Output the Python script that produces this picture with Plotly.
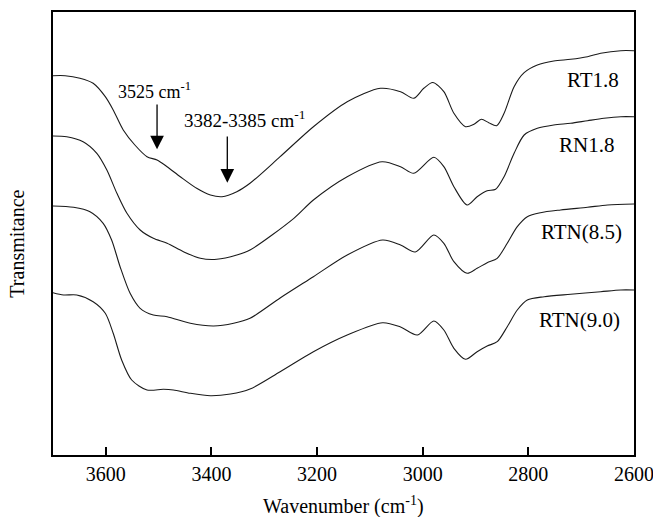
import plotly.graph_objects as go

# Wavenumber (cm-1) and transmittance (arbitrary units, curves offset vertically)
wn_rt18 = [3700, 3677, 3649, 3624, 3601, 3586, 3567, 3545, 3522, 3503, 3484, 3459, 3428, 3402, 3380,
           3352, 3327, 3270, 3207, 3143, 3080, 3042, 3017, 2998, 2981, 2960, 2941, 2919, 2903, 2889,
           2875, 2860, 2846, 2827, 2808, 2783, 2752, 2720, 2688, 2663, 2625, 2600]
t_rt18 = [379.3, 379.3, 376.7, 371.7, 358.3, 345, 325, 310, 298.3, 295, 288.3, 278.3, 266.7, 260, 258.3,
          263.3, 271.7, 298.3, 328.3, 353.3, 366.7, 363.3, 356.7, 366.7, 372.5, 363.3, 341.7, 328.3, 330.7, 335.7,
          332.3, 329.3, 341.7, 368.3, 382.3, 390, 394, 395.7, 398.3, 401.7, 404.3, 404.3]

wn_rn18 = [3700, 3674, 3643, 3617, 3598, 3579, 3560, 3535, 3510, 3484, 3453, 3421, 3390, 3352, 3327,
           3244, 3207, 3143, 3077, 3042, 3017, 2979, 2960, 2941, 2916, 2897, 2878, 2862, 2846, 2827,
           2808, 2783, 2752, 2720, 2688, 2657, 2625, 2600]
t_rn18 = [319, 318.3, 313.3, 301.7, 285, 261.7, 241.7, 225, 216.7, 211.7, 203.3, 196.7, 195.7, 200, 205,
          236.7, 255, 278.3, 293.3, 288.3, 281.7, 297.7, 288.3, 268.3, 250, 258.3, 264.3, 265.7, 278.3, 301.7,
          320, 326.7, 330, 331.7, 334.3, 336.7, 338.3, 338.3]

wn_rtn85 = [3700, 3661, 3630, 3605, 3589, 3573, 3554, 3535, 3510, 3484, 3440, 3396, 3358, 3327, 3270,
            3207, 3143, 3076, 3042, 3014, 2979, 2960, 2941, 2916, 2897, 2878, 2859, 2840, 2821, 2802,
            2777, 2739, 2688, 2650, 2600]
t_rtn85 = [249, 247.7, 243.3, 231.7, 215, 188.3, 161.7, 146.7, 140, 138.3, 131.7, 129, 131.7, 136.7, 157,
           178.3, 200, 215, 210, 203, 220, 211.7, 193.3, 181.7, 186.7, 192.3, 196.7, 211.7, 228.3, 238.3,
           242.3, 245, 247.7, 250, 251]

wn_rtn90 = [3700, 3680, 3655, 3624, 3601, 3586, 3570, 3551, 3522, 3491, 3472, 3440, 3402, 3364, 3327,
            3270, 3207, 3143, 3076, 3042, 3010, 2979, 2960, 2941, 2919, 2897, 2878, 2859, 2840, 2821,
            2802, 2770, 2720, 2663, 2625, 2600]
t_rtn90 = [162.3, 160, 160, 153.3, 141.7, 121.7, 95, 75, 65, 65.7, 65, 61.7, 59.3, 61, 66,
           83.3, 103.3, 120, 132.3, 128, 120, 134, 125, 106.7, 95.7, 103.3, 109, 113.3, 128.3, 145,
           155, 158.3, 160.7, 163.3, 165, 165]

series_names = ["RT1.8", "RN1.8", "RTN(8.5)", "RTN(9.0)"]
series_wn = [wn_rt18, wn_rn18, wn_rtn85, wn_rtn90]
series_t = [t_rt18, t_rn18, t_rtn85, t_rtn90]
# label anchor positions (wavenumber, transmittance)
label_wn = [2625, 2634, 2619, 2622]
label_t = [375.3, 310, 223.3, 135.5]

tick_vals = [3600, 3400, 3200, 3000, 2800, 2600]

FONT = "Liberation Serif"

fig = go.Figure()
for name, x, y in zip(series_names, series_wn, series_t):
    fig.add_trace(go.Scatter(x=x, y=y, mode="lines", name=name,
                             line=dict(color="#1a1a1a", width=1.1, shape="spline", smoothing=0.8),
                             showlegend=False, hoverinfo="skip"))

for name, lx, ly in zip(series_names, label_wn, label_t):
    fig.add_annotation(x=lx, y=ly, text=name, showarrow=False, xanchor="right", yanchor="middle",
                       font=dict(family=FONT, size=21, color="black"))

# peak annotations with arrows
fig.add_annotation(x=3503, y=305.7, ax=3503, ay=352, axref="x", ayref="y",
                   text="", showarrow=True, arrowhead=2, arrowsize=2.1, arrowwidth=1.3, arrowcolor="black")
fig.add_annotation(x=3507, y=365, text="3525 cm<sup>-1</sup>", showarrow=False,
                   font=dict(family=FONT, size=18, color="black"), yanchor="middle")
fig.add_annotation(x=3370, y=272.3, ax=3370, ay=320, axref="x", ayref="y",
                   text="", showarrow=True, arrowhead=2, arrowsize=2.1, arrowwidth=1.3, arrowcolor="black")
fig.add_annotation(x=3337, y=336, text="3382-3385 cm<sup>-1</sup>", showarrow=False,
                   font=dict(family=FONT, size=19, color="black"), yanchor="middle")

# axis titles
fig.add_annotation(xref="paper", yref="paper", x=0.5, y=-0.115, text="Wavenumber (cm<sup>-1</sup>)",
                   showarrow=False, font=dict(family=FONT, size=20, color="black"), yanchor="middle")
fig.add_annotation(xref="paper", yref="paper", x=-0.062, y=0.477, text="Transmitance", textangle=-90,
                   showarrow=False, font=dict(family=FONT, size=20, color="black"),
                   xanchor="center", yanchor="middle")

fig.update_layout(
    width=653, height=517,
    margin=dict(l=53, r=19, t=12, b=62),
    paper_bgcolor="white", plot_bgcolor="white",
    font=dict(family=FONT, size=20, color="black"),
)
fig.update_xaxes(range=[3700, 2600], tickvals=tick_vals, ticks="inside", ticklen=8, tickwidth=2,
                 tickcolor="black", showline=True, linecolor="black", linewidth=2, mirror=True,
                 showgrid=False, zeroline=False, ticklabeloverflow="allow", automargin=False,
                 tickfont=dict(family=FONT, size=20, color="black"))
fig.update_yaxes(range=[0, 443], showticklabels=False, ticks="", showline=True, linecolor="black",
                 linewidth=2, mirror=True, showgrid=False, zeroline=False, automargin=False)

fig.write_html("out.html")
